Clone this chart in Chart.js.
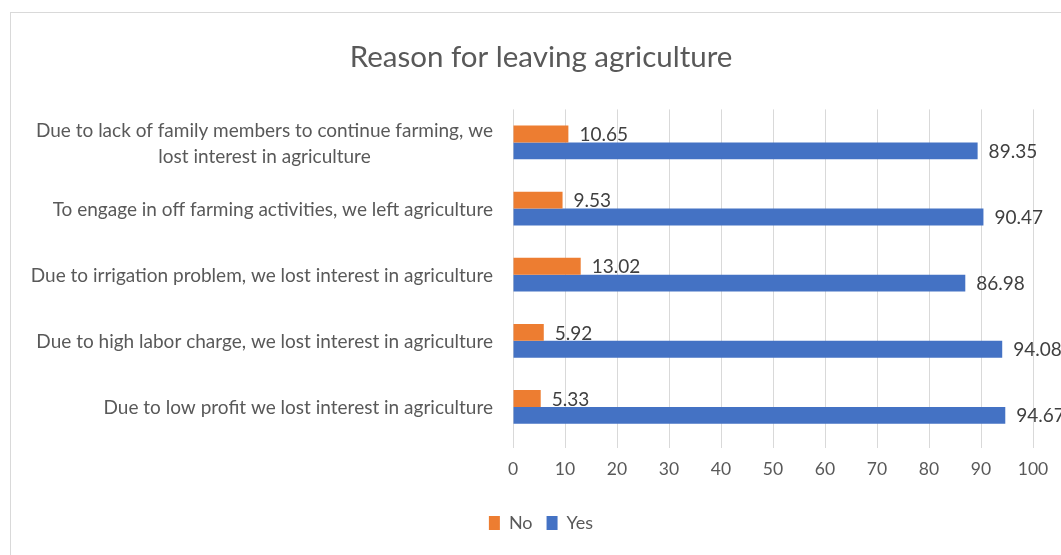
<!DOCTYPE html>
<html>
<head>
<meta charset="utf-8">
<script src="https://cdn.jsdelivr.net/npm/chart.js@4.4.1/dist/chart.umd.min.js"></script>
<style>
  html, body { margin: 0; padding: 0; background: #fff; overflow: hidden; width: 1061px; height: 555px; }
  #frame { position: absolute; left: 10px; top: 12px; width: 1060px; height: 560px; border: 1px solid #d9d9d9; }
  canvas { display: block; }
</style>
</head>
<body>
<div id="frame"><canvas id="chart" width="1060" height="560"></canvas></div>
<script>
// Survey reasons (top to bottom) and the share of answers per reason
const categories = [
  ["Due to lack of family members to continue farming, we", "lost interest in agriculture"],
  "To engage in off farming activities, we left agriculture",
  "Due to irrigation problem, we lost interest in agriculture",
  "Due to high labor charge, we lost interest in agriculture",
  "Due to low profit we lost interest in agriculture"
];
const noValues  = [10.65, 9.53, 13.02, 5.92, 5.33];
const yesValues = [89.35, 90.47, 86.98, 94.08, 94.67];
const xTicks = [0, 10, 20, 30, 40, 50, 60, 70, 80, 90, 100];

const FONT = "Lato, 'Open Sans', sans-serif";
const TEXT = '#595959';

// Category names, each block centred on its widest line and right-aligned to the axis
const categoryLabels = {
  id: 'categoryLabels',
  afterDraw(chart) {
    const ctx = chart.ctx;
    const yScale = chart.scales.y;
    const right = chart.chartArea.left - 20;
    ctx.save();
    ctx.font = `19px ${FONT}`;
    ctx.fillStyle = TEXT;
    ctx.textAlign = 'center';
    ctx.textBaseline = 'middle';
    categories.forEach((label, i) => {
      const lines = Array.isArray(label) ? label : [label];
      const cy = yScale.getPixelForValue(i) + 1;
      const maxW = Math.max(...lines.map(l => ctx.measureText(l).width));
      lines.forEach((line, k) => {
        ctx.fillText(line, right - maxW / 2, cy + (k - (lines.length - 1) / 2) * 26);
      });
    });
    ctx.restore();
  }
};

// Value labels just past the end of every bar
const valueLabels = {
  id: 'valueLabels',
  afterDatasetsDraw(chart) {
    const ctx = chart.ctx;
    ctx.save();
    ctx.font = `19px ${FONT}`;
    ctx.fillStyle = '#404040';
    ctx.textAlign = 'left';
    ctx.textBaseline = 'middle';
    chart.data.datasets.forEach((ds, di) => {
      chart.getDatasetMeta(di).data.forEach((bar, i) => {
        ctx.fillText(ds.data[i].toFixed(2), bar.x + 11, bar.y + 1);
      });
    });
    ctx.restore();
  }
};

new Chart(document.getElementById('chart'), {
  type: 'bar',
  data: {
    labels: categories,
    datasets: [
      { label: 'No',  data: noValues,  backgroundColor: '#ED7D31', categoryPercentage: 0.51, barPercentage: 1.0 },
      { label: 'Yes', data: yesValues, backgroundColor: '#4472C4', categoryPercentage: 0.51, barPercentage: 1.0 }
    ]
  },
  options: {
    indexAxis: 'y',
    responsive: false,
    animation: false,
    devicePixelRatio: 1,
    layout: { padding: { top: 0, right: 0, bottom: 31, left: 0 } },
    plugins: {
      title: {
        display: true,
        text: 'Reason for leaving agriculture',
        color: TEXT,
        font: { family: FONT, size: 29.5, weight: 'normal' },
        padding: { top: 27, bottom: 34 }
      },
      legend: {
        position: 'bottom',
        labels: {
          color: TEXT,
          font: { family: FONT, size: 18 },
          boxWidth: 11,
          boxHeight: 14,
          padding: 14
        }
      },
      tooltip: { enabled: false }
    },
    scales: {
      x: {
        min: 0,
        max: 100,
        afterBuildTicks(scale) { scale.ticks = xTicks.map(v => ({ value: v })); },
        afterFit(scale) { scale.height = 60; },
        ticks: { color: TEXT, font: { family: FONT, size: 17.5 }, padding: 11 },
        grid: { color: '#d9d9d9', lineWidth: 1, tickLength: 8 },
        border: { display: false }
      },
      y: {
        afterFit(scale) { scale.width = 502; },
        ticks: { display: false },
        grid: { display: false },
        border: { display: false }
      },
      // empty strip on the right that leaves room for the value labels
      yRight: {
        type: 'category',
        position: 'right',
        afterFit(scale) { scale.width = 38; },
        ticks: { display: false },
        grid: { display: false },
        border: { display: false }
      }
    }
  },
  plugins: [categoryLabels, valueLabels]
});
</script>
</body>
</html>
